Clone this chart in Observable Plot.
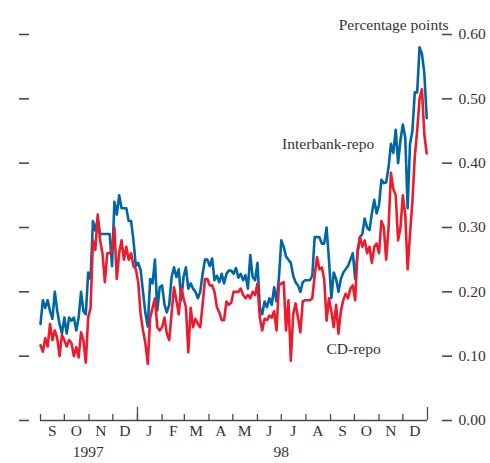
<!DOCTYPE html>
<html><head><meta charset="utf-8">
<script src="https://cdn.jsdelivr.net/npm/d3@7"></script>
<script src="https://cdn.jsdelivr.net/npm/@observablehq/plot@0.6"></script>
<style>html,body{margin:0;padding:0;background:#fff;}</style>
</head><body><div id="chart"></div>
<script>
const dates = [
"1997-09-01","1997-09-04","1997-09-07","1997-09-10","1997-09-13","1997-09-16","1997-09-19","1997-09-22","1997-09-25","1997-09-28",
"1997-10-01","1997-10-04","1997-10-07","1997-10-10","1997-10-13","1997-10-16","1997-10-19","1997-10-22","1997-10-25","1997-10-28","1997-10-31",
"1997-11-03","1997-11-06","1997-11-09","1997-11-12","1997-11-15","1997-11-18","1997-11-21","1997-11-24","1997-11-27","1997-11-30",
"1997-12-03","1997-12-06","1997-12-09","1997-12-12","1997-12-15","1997-12-18","1997-12-21","1997-12-24","1997-12-27","1997-12-30",
"1998-01-02","1998-01-05","1998-01-08","1998-01-11","1998-01-14","1998-01-17","1998-01-20","1998-01-23","1998-01-26","1998-01-29",
"1998-02-01","1998-02-04","1998-02-07","1998-02-10","1998-02-13","1998-02-16","1998-02-19","1998-02-22","1998-02-25","1998-02-28",
"1998-03-03","1998-03-06","1998-03-09","1998-03-12","1998-03-15","1998-03-18","1998-03-21","1998-03-24","1998-03-27","1998-03-30",
"1998-04-02","1998-04-05","1998-04-08","1998-04-11","1998-04-14","1998-04-17","1998-04-20","1998-04-23","1998-04-26","1998-04-29",
"1998-05-02","1998-05-05","1998-05-08","1998-05-11","1998-05-14","1998-05-17","1998-05-20","1998-05-23","1998-05-26","1998-05-29",
"1998-06-01","1998-06-04","1998-06-07","1998-06-10","1998-06-13","1998-06-16","1998-06-19","1998-06-22","1998-06-25","1998-06-28",
"1998-07-01","1998-07-04","1998-07-07","1998-07-10","1998-07-13","1998-07-16","1998-07-19","1998-07-22","1998-07-25","1998-07-28","1998-07-31",
"1998-08-03","1998-08-06","1998-08-09","1998-08-12","1998-08-15","1998-08-18","1998-08-21","1998-08-24","1998-08-27","1998-08-30",
"1998-09-02","1998-09-05","1998-09-08","1998-09-11","1998-09-14","1998-09-17","1998-09-20","1998-09-23","1998-09-26","1998-09-29",
"1998-10-02","1998-10-05","1998-10-08","1998-10-11","1998-10-14","1998-10-17","1998-10-20","1998-10-23","1998-10-26","1998-10-29",
"1998-11-01","1998-11-04","1998-11-07","1998-11-10","1998-11-13","1998-11-16","1998-11-19","1998-11-22","1998-11-25","1998-11-28",
"1998-12-01","1998-12-04","1998-12-07","1998-12-10","1998-12-13","1998-12-16","1998-12-19","1998-12-22","1998-12-25","1998-12-28","1998-12-31"
];

const interbankRepo = [
0.15,0.187,0.175,0.187,0.17,0.158,0.20,0.171,0.15,0.135,
0.16,0.135,0.16,0.155,0.16,0.14,0.16,0.20,0.17,0.165,0.23,
0.22,0.31,0.295,0.314,0.29,0.29,0.29,0.29,0.29,0.24,
0.34,0.32,0.35,0.33,0.33,0.33,0.31,0.31,0.28,0.24,
0.245,0.234,0.20,0.167,0.146,0.22,0.213,0.25,0.171,0.207,
0.21,0.18,0.168,0.18,0.223,0.238,0.223,0.235,0.187,0.223,
0.238,0.205,0.213,0.205,0.20,0.19,0.20,0.228,0.25,0.25,
0.24,0.252,0.218,0.225,0.215,0.228,0.213,0.228,0.233,0.233,
0.228,0.237,0.222,0.228,0.218,0.226,0.205,0.257,0.223,0.218,
0.245,0.176,0.165,0.185,0.176,0.19,0.18,0.207,0.185,0.221,
0.28,0.27,0.255,0.25,0.245,0.225,0.215,0.21,0.20,0.215,0.218,
0.218,0.218,0.225,0.285,0.285,0.285,0.275,0.275,0.30,0.25,
0.19,0.23,0.22,0.20,0.22,0.23,0.235,0.24,0.25,0.26,
0.22,0.26,0.285,0.29,0.314,0.30,0.296,0.322,0.343,0.322,
0.335,0.374,0.369,0.37,0.394,0.43,0.416,0.452,0.40,0.436,
0.46,0.44,0.33,0.43,0.45,0.51,0.51,0.58,0.57,0.54,0.47
];

const cdRepo = [
0.117,0.107,0.128,0.115,0.15,0.125,0.14,0.128,0.10,0.133,
0.125,0.115,0.125,0.12,0.10,0.114,0.098,0.137,0.125,0.09,0.16,
0.175,0.28,0.265,0.32,0.28,0.26,0.215,0.26,0.26,0.265,
0.30,0.22,0.26,0.28,0.25,0.27,0.25,0.26,0.24,0.235,
0.215,0.165,0.14,0.12,0.088,0.16,0.175,0.19,0.145,0.14,
0.145,0.16,0.135,0.125,0.167,0.207,0.187,0.165,0.207,0.19,
0.176,0.106,0.175,0.145,0.158,0.15,0.145,0.18,0.22,0.22,
0.21,0.21,0.20,0.176,0.168,0.156,0.156,0.185,0.18,0.183,
0.20,0.20,0.20,0.205,0.195,0.19,0.195,0.19,0.20,0.195,
0.213,0.16,0.14,0.158,0.156,0.163,0.16,0.17,0.14,0.21,
0.213,0.215,0.14,0.187,0.093,0.165,0.182,0.16,0.137,0.185,0.187,
0.187,0.187,0.19,0.225,0.254,0.235,0.238,0.22,0.155,0.19,
0.17,0.145,0.18,0.135,0.17,0.187,0.197,0.19,0.205,0.21,
0.187,0.265,0.285,0.27,0.28,0.26,0.27,0.245,0.27,0.275,
0.26,0.31,0.30,0.25,0.30,0.385,0.36,0.35,0.28,0.30,
0.35,0.32,0.235,0.29,0.34,0.41,0.45,0.50,0.515,0.445,0.415
];

const yTicks = [0, 0.1, 0.2, 0.3, 0.4, 0.5, 0.6];
const monthTickDates = ["1997-09-01","1997-10-01","1997-11-01","1997-12-01","1998-01-01","1998-02-01","1998-03-01","1998-04-01","1998-05-01","1998-06-01","1998-07-01","1998-08-01","1998-09-01","1998-10-01","1998-11-01","1998-12-01"];
const yearTickDates = ["1998-01-01","1999-01-01"];
const monthLabelDates = ["1997-09-16","1997-10-16","1997-11-16","1997-12-16","1998-01-16","1998-02-15","1998-03-16","1998-04-16","1998-05-16","1998-06-16","1998-07-16","1998-08-16","1998-09-16","1998-10-16","1998-11-16","1998-12-16"];
const monthLabels = ["S","O","N","D","J","F","M","A","M","J","J","A","S","O","N","D"];
const yearLabelDates = ["1997-10-31","1998-07-01"];
const yearLabels = ["1997","98"];
const seriesNames = ["Interbank-repo","CD-repo"];
const seriesLabelDates = ["1998-08-29","1998-09-30"];
const seriesLabelValues = [0.43, 0.111];
const axisTitle = "Percentage points";

const parse = d3.utcParse("%Y-%m-%d");
const ib = dates.map((d, i) => ({date: parse(d), v: interbankRepo[i]}));
const cd = dates.map((d, i) => ({date: parse(d), v: cdRepo[i]}));
const monthLab = monthLabelDates.map((d, i) => ({date: parse(d), label: monthLabels[i]}));
const yearLab = yearLabelDates.map((d, i) => ({date: parse(d), label: yearLabels[i]}));
const seriesLab = seriesNames.map((n, i) => ({date: parse(seriesLabelDates[i]), v: seriesLabelValues[i], label: n}));

const axisColor = "#4a4a4a";
const textColor = "#333";

const chart = Plot.plot({
  width: 490,
  height: 463,
  marginLeft: 40,
  marginRight: 63,
  marginTop: 34,
  marginBottom: 43,
  style: {fontFamily: '"Liberation Serif","Times New Roman",serif', fontSize: "15.5px", color: textColor, background: "#fff"},
  x: {type: "utc", domain: [parse("1997-09-01"), parse("1999-01-01")]},
  y: {domain: [0, 0.6]},
  marks: [
    Plot.axisY({anchor: "right", ticks: yTicks, tickSize: 10, tickPadding: 7, dx: 14, tickFormat: d3.format(".2f"), label: null, stroke: axisColor, strokeWidth: 1.6, fill: textColor}),
    Plot.axisY({anchor: "left", ticks: yTicks, tickSize: 10, dx: -11, tickFormat: () => "", label: null, stroke: axisColor, strokeWidth: 1.6}),
    Plot.axisX({anchor: "bottom", ticks: monthTickDates.map(parse), tickSize: 6, dy: -6, tickFormat: () => "", label: null, stroke: axisColor, strokeWidth: 1.3}),
    Plot.axisX({anchor: "bottom", ticks: yearTickDates.map(parse), tickSize: 13, dy: -13, tickFormat: () => "", label: null, stroke: axisColor, strokeWidth: 1.3}),
    Plot.ruleY([0], {stroke: axisColor, strokeWidth: 1.5}),
    Plot.line(ib, {x: "date", y: "v", stroke: "#0066a6", strokeWidth: 2.6}),
    Plot.line(cd, {x: "date", y: "v", stroke: "#ec1c2e", strokeWidth: 2.6}),
    Plot.text(monthLab, {x: "date", frameAnchor: "bottom", text: "label", dy: 15, fill: textColor}),
    Plot.text(yearLab, {x: "date", frameAnchor: "bottom", text: "label", dy: 36, fill: textColor}),
    Plot.text(seriesLab, {x: "date", y: "v", text: "label", fill: textColor}),
    Plot.text([axisTitle], {frameAnchor: "top-right", text: d => d, textAnchor: "end", dx: 21, dy: -15.5, fill: textColor})
  ]
});
document.getElementById("chart").appendChild(chart);
</script>
</body></html>
